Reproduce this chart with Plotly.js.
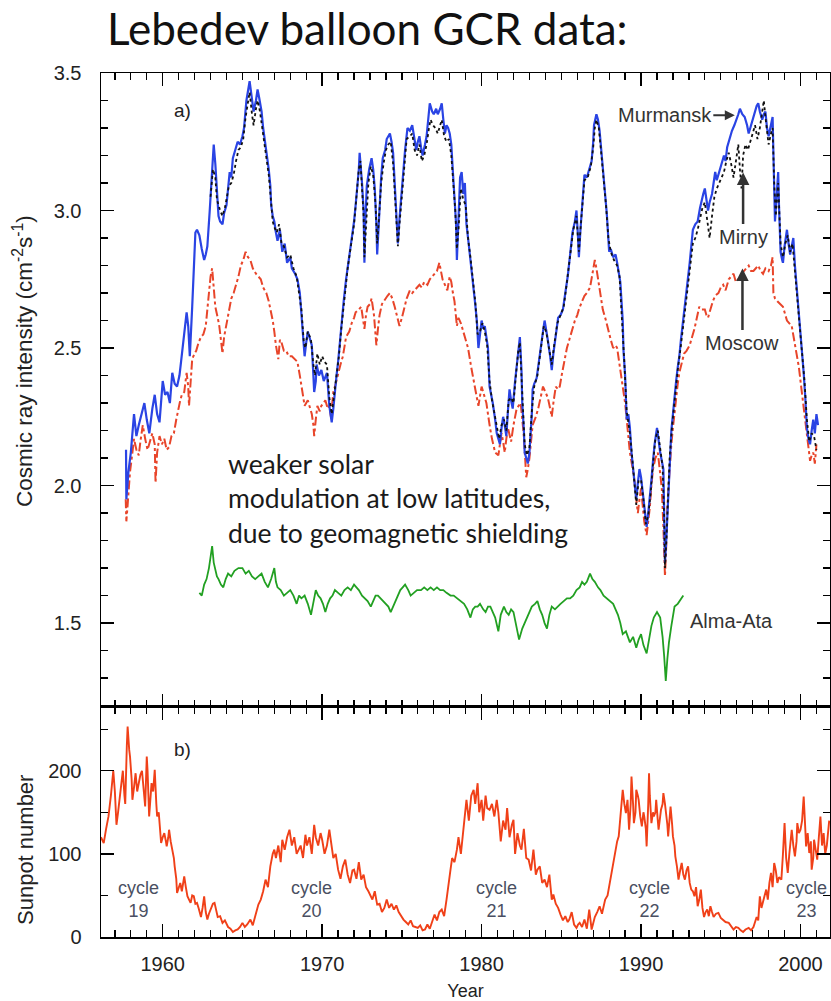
<!DOCTYPE html>
<html>
<head>
<meta charset="utf-8">
<script src="https://cdn.plot.ly/plotly-3.0.1.min.js"></script>
<style>html,body{margin:0;padding:0;background:#fff;}</style>
</head>
<body>
<div id="chart" style="width:831px;height:1001px;"></div>
<script>
// ---- Murmansk (blue) ----
const murmanskYear = [1957.70,1957.72,1957.85,1958.0,1958.2,1958.35,1958.5,1958.7,1958.85,1959.0,1959.16,1959.35,1959.5,1959.65,1959.8,1960.0,1960.15,1960.3,1960.45,1960.6,1960.75,1960.9,1961.05,1961.15,1961.25,1961.35,1961.5,1961.6,1961.7,1961.85,1961.95,1962.05,1962.15,1962.3,1962.45,1962.6,1962.7,1962.8,1962.95,1963.05,1963.2,1963.3,1963.4,1963.5,1963.6,1963.75,1963.85,1964.0,1964.1,1964.2,1964.3,1964.4,1964.55,1964.7,1964.85,1965.0,1965.1,1965.25,1965.45,1965.6,1965.7,1965.85,1965.95,1966.05,1966.2,1966.3,1966.4,1966.55,1966.65,1966.75,1966.8,1966.9,1967.0,1967.1,1967.2,1967.35,1967.5,1967.65,1967.8,1968.0,1968.1,1968.3,1968.45,1968.6,1968.7,1968.8,1968.9,1969.0,1969.1,1969.25,1969.35,1969.45,1969.5,1969.6,1969.65,1969.8,1969.95,1970.1,1970.3,1970.45,1970.6,1970.7,1970.8,1970.9,1971.0,1971.1,1971.2,1971.35,1971.5,1971.7,1971.85,1972.0,1972.1,1972.2,1972.3,1972.35,1972.45,1972.5,1972.6,1972.65,1972.7,1972.8,1972.95,1973.1,1973.2,1973.3,1973.4,1973.45,1973.55,1973.6,1973.7,1973.8,1973.95,1974.05,1974.15,1974.25,1974.35,1974.45,1974.55,1974.65,1974.75,1974.85,1974.95,1975.1,1975.2,1975.35,1975.5,1975.65,1975.8,1975.9,1976.0,1976.1,1976.2,1976.3,1976.45,1976.55,1976.65,1976.75,1976.9,1977.0,1977.15,1977.25,1977.4,1977.5,1977.6,1977.7,1977.8,1977.9,1978.0,1978.1,1978.2,1978.3,1978.4,1978.45,1978.55,1978.65,1978.75,1978.85,1978.95,1979.05,1979.15,1979.25,1979.35,1979.45,1979.6,1979.7,1979.8,1979.9,1980.0,1980.1,1980.2,1980.3,1980.4,1980.5,1980.6,1980.7,1980.85,1980.95,1981.05,1981.15,1981.25,1981.35,1981.45,1981.55,1981.65,1981.75,1981.85,1981.95,1982.1,1982.2,1982.3,1982.4,1982.5,1982.55,1982.65,1982.7,1982.8,1982.9,1983.0,1983.05,1983.15,1983.2,1983.3,1983.45,1983.6,1983.75,1983.85,1983.95,1984.05,1984.15,1984.3,1984.4,1984.5,1984.6,1984.7,1984.8,1984.95,1985.1,1985.25,1985.4,1985.55,1985.7,1985.85,1985.95,1986.05,1986.1,1986.2,1986.3,1986.45,1986.6,1986.7,1986.8,1986.9,1987.0,1987.05,1987.2,1987.3,1987.4,1987.5,1987.6,1987.75,1987.85,1988.0,1988.1,1988.25,1988.4,1988.5,1988.6,1988.7,1988.85,1988.9,1989.0,1989.1,1989.2,1989.3,1989.4,1989.5,1989.6,1989.7,1989.8,1989.9,1990.0,1990.1,1990.2,1990.35,1990.45,1990.55,1990.65,1990.75,1990.85,1991.0,1991.1,1991.2,1991.3,1991.4,1991.45,1991.5,1991.58,1991.65,1991.75,1991.8,1991.9,1992.0,1992.1,1992.2,1992.3,1992.4,1992.5,1992.6,1992.75,1992.85,1992.95,1993.05,1993.15,1993.25,1993.4,1993.55,1993.7,1993.8,1993.9,1994.0,1994.1,1994.2,1994.3,1994.45,1994.55,1994.65,1994.75,1994.85,1994.95,1995.05,1995.2,1995.3,1995.4,1995.55,1995.7,1995.85,1996.0,1996.1,1996.2,1996.35,1996.5,1996.65,1996.75,1996.85,1997.0,1997.15,1997.25,1997.35,1997.45,1997.6,1997.7,1997.8,1997.9,1998.0,1998.1,1998.2,1998.25,1998.3,1998.35,1998.4,1998.5,1998.6,1998.65,1998.75,1998.85,1998.9,1999.0,1999.15,1999.25,1999.35,1999.45,1999.55,1999.65,1999.8,1999.9,2000.0,2000.1,2000.2,2000.3,2000.4,2000.5,2000.6,2000.7,2000.8,2000.9,2001.0,2001.1];
const murmanskVal = [2.13,1.95,2.05,2.12,2.26,2.18,2.22,2.27,2.30,2.24,2.19,2.28,2.33,2.26,2.23,2.38,2.33,2.34,2.30,2.41,2.37,2.36,2.40,2.45,2.50,2.56,2.63,2.58,2.47,2.65,2.80,2.92,2.93,2.91,2.86,2.82,2.84,2.87,3.00,3.10,3.24,3.17,3.05,2.98,2.96,2.95,2.99,3.02,3.08,3.14,3.12,3.19,3.22,3.25,3.24,3.27,3.30,3.40,3.47,3.39,3.36,3.40,3.44,3.41,3.36,3.30,3.26,3.20,3.15,3.09,3.02,2.98,2.96,2.92,2.89,2.93,2.85,2.88,2.81,2.83,2.79,2.77,2.75,2.70,2.63,2.55,2.47,2.52,2.56,2.53,2.51,2.40,2.34,2.38,2.44,2.40,2.42,2.38,2.41,2.29,2.23,2.28,2.35,2.40,2.45,2.52,2.58,2.67,2.75,2.83,2.89,2.96,3.02,3.08,3.15,3.21,3.14,3.10,3.00,2.81,2.95,3.09,3.15,3.19,3.15,3.08,2.95,2.84,2.95,3.02,3.12,3.19,3.22,3.26,3.27,3.28,3.25,3.21,3.10,2.96,2.88,2.97,3.05,3.14,3.22,3.30,3.29,3.31,3.26,3.22,3.25,3.27,3.23,3.20,3.24,3.27,3.33,3.39,3.36,3.35,3.37,3.35,3.37,3.39,3.33,3.28,3.31,3.30,3.28,3.24,3.14,3.04,2.95,2.82,2.95,3.12,3.14,3.06,3.10,2.95,2.90,2.85,2.80,2.75,2.66,2.60,2.50,2.55,2.60,2.57,2.58,2.54,2.50,2.36,2.33,2.30,2.24,2.19,2.17,2.15,2.21,2.25,2.22,2.18,2.27,2.35,2.31,2.28,2.38,2.44,2.50,2.54,2.42,2.30,2.20,2.12,2.10,2.08,2.12,2.16,2.26,2.35,2.37,2.39,2.46,2.51,2.56,2.60,2.57,2.53,2.47,2.42,2.48,2.53,2.57,2.61,2.62,2.64,2.70,2.76,2.84,2.92,2.96,3.00,2.90,2.83,2.93,3.01,3.13,3.12,3.14,3.16,3.18,3.25,3.31,3.35,3.33,3.29,3.22,3.15,3.05,2.99,2.85,2.86,2.83,2.84,2.81,2.78,2.74,2.60,2.49,2.40,2.24,2.26,2.21,2.12,2.06,2.00,1.95,2.01,2.06,2.03,1.98,1.92,1.85,1.90,1.95,2.02,2.09,2.15,2.21,2.16,2.12,2.09,2.06,1.90,1.72,1.80,1.89,2.03,2.13,2.20,2.26,2.33,2.38,2.43,2.47,2.53,2.58,2.64,2.70,2.76,2.81,2.87,2.93,2.95,2.96,3.01,3.04,3.06,3.08,3.04,3.00,3.03,3.06,3.10,3.14,3.11,3.13,3.15,3.17,3.20,3.18,3.23,3.26,3.29,3.31,3.33,3.35,3.37,3.35,3.34,3.31,3.28,3.30,3.33,3.36,3.38,3.39,3.36,3.33,3.35,3.36,3.30,3.27,3.30,3.33,3.34,3.21,3.08,2.96,3.05,3.14,3.02,2.85,2.82,2.81,2.87,2.93,2.88,2.84,2.87,2.90,2.80,2.70,2.63,2.57,2.48,2.41,2.32,2.21,2.17,2.15,2.20,2.24,2.19,2.26,2.22];

// ---- Mirny (black dotted) ----
const mirnyYear = [1963.0,1963.15,1963.3,1963.4,1963.5,1963.6,1963.75,1963.9,1964.0,1964.15,1964.3,1964.45,1964.6,1964.75,1964.9,1965.05,1965.2,1965.35,1965.45,1965.6,1965.7,1965.85,1965.95,1966.1,1966.2,1966.35,1966.5,1966.65,1966.8,1966.9,1967.0,1967.15,1967.3,1967.45,1967.6,1967.8,1968.0,1968.2,1968.4,1968.55,1968.7,1968.85,1968.95,1969.1,1969.3,1969.45,1969.55,1969.7,1969.85,1970.0,1970.15,1970.3,1970.45,1970.6,1970.75,1970.9,1971.05,1971.2,1971.4,1971.6,1971.8,1972.0,1972.15,1972.3,1972.4,1972.5,1972.6,1972.65,1972.75,1972.9,1973.05,1973.2,1973.35,1973.45,1973.55,1973.7,1973.85,1974.0,1974.15,1974.3,1974.45,1974.55,1974.65,1974.75,1974.85,1975.0,1975.15,1975.3,1975.5,1975.65,1975.8,1975.95,1976.1,1976.25,1976.4,1976.55,1976.7,1976.8,1976.95,1977.1,1977.25,1977.4,1977.5,1977.65,1977.8,1977.95,1978.1,1978.2,1978.35,1978.45,1978.55,1978.7,1978.85,1979.0,1979.15,1979.3,1979.45,1979.6,1979.75,1979.9,1980.05,1980.2,1980.35,1980.5,1980.65,1980.8,1980.95,1981.1,1981.25,1981.4,1981.55,1981.7,1981.85,1982.0,1982.15,1982.3,1982.4,1982.55,1982.7,1982.85,1983.0,1983.15,1983.3,1983.5,1983.7,1983.9,1984.05,1984.2,1984.4,1984.55,1984.75,1984.95,1985.15,1985.35,1985.55,1985.75,1985.95,1986.1,1986.25,1986.45,1986.65,1986.85,1987.0,1987.1,1987.2,1987.35,1987.5,1987.65,1987.8,1987.95,1988.1,1988.3,1988.5,1988.65,1988.8,1988.95,1989.1,1989.3,1989.45,1989.6,1989.7,1989.85,1990.0,1990.15,1990.3,1990.45,1990.6,1990.75,1990.9,1991.05,1991.2,1991.35,1991.45,1991.5,1991.6,1991.7,1991.8,1991.95,1992.1,1992.3,1992.5,1992.7,1992.9,1993.1,1993.25,1993.4,1993.55,1993.7,1993.85,1994.0,1994.15,1994.3,1994.45,1994.6,1994.75,1994.9,1995.05,1995.2,1995.35,1995.5,1995.65,1995.8,1995.95,1996.1,1996.2,1996.3,1996.4,1996.55,1996.7,1996.85,1997.0,1997.15,1997.3,1997.45,1997.6,1997.7,1997.8,1997.9,1998.0,1998.15,1998.25,1998.35,1998.45,1998.6,1998.75,1998.9,1999.05,1999.2,1999.35,1999.5,1999.65,1999.8,1999.95,2000.1,2000.25,2000.4,2000.55,2000.7,2000.85,2001.0];
const mirnyVal = [3.05,3.15,3.12,3.04,3.02,3.00,2.98,3.01,3.04,3.09,3.10,3.13,3.18,3.22,3.23,3.26,3.34,3.40,3.43,3.35,3.31,3.37,3.40,3.36,3.32,3.26,3.20,3.13,3.03,2.96,2.94,2.92,2.95,2.88,2.87,2.83,2.84,2.79,2.76,2.70,2.64,2.52,2.50,2.56,2.53,2.44,2.40,2.48,2.44,2.47,2.45,2.44,2.32,2.26,2.33,2.40,2.47,2.57,2.68,2.79,2.87,2.95,3.05,3.15,3.18,3.08,2.98,2.83,2.96,3.10,3.16,3.13,3.02,2.88,2.96,3.10,3.17,3.22,3.24,3.25,3.17,3.06,2.94,2.87,2.95,3.06,3.16,3.26,3.27,3.28,3.22,3.20,3.24,3.18,3.20,3.24,3.30,3.33,3.31,3.30,3.28,3.31,3.33,3.27,3.25,3.26,3.20,3.12,3.00,2.86,2.93,3.08,3.04,3.02,2.90,2.83,2.76,2.67,2.55,2.56,2.59,2.56,2.51,2.38,2.31,2.26,2.21,2.17,2.22,2.24,2.20,2.31,2.32,2.30,2.40,2.49,2.52,2.33,2.15,2.11,2.14,2.27,2.36,2.40,2.49,2.58,2.56,2.51,2.44,2.51,2.59,2.62,2.65,2.74,2.83,2.93,2.98,2.85,2.97,3.11,3.12,3.16,3.23,3.30,3.33,3.30,3.21,3.12,3.02,2.90,2.85,2.82,2.80,2.76,2.62,2.45,2.27,2.19,2.10,2.01,1.93,2.02,2.02,1.95,1.86,1.89,1.97,2.08,2.17,2.20,2.13,2.07,1.88,1.70,1.82,1.95,2.11,2.22,2.31,2.42,2.51,2.61,2.71,2.80,2.88,2.90,2.93,2.97,3.01,3.03,2.96,2.90,2.98,3.05,3.08,3.10,3.12,3.14,3.18,3.21,3.17,3.12,3.18,3.24,3.15,3.08,3.20,3.24,3.22,3.25,3.28,3.31,3.26,3.30,3.36,3.40,3.34,3.28,3.24,3.28,3.30,3.10,2.98,3.10,2.88,2.83,2.88,2.91,2.85,2.88,2.78,2.68,2.58,2.48,2.38,2.24,2.16,2.19,2.18,2.13];

// ---- Moscow (red dash-dot) ----
const moscowYear = [1957.68,1957.72,1957.8,1957.95,1958.1,1958.2,1958.35,1958.5,1958.6,1958.75,1958.9,1959.05,1959.2,1959.35,1959.5,1959.55,1959.65,1959.8,1959.95,1960.1,1960.25,1960.4,1960.55,1960.7,1960.85,1961.0,1961.1,1961.2,1961.35,1961.5,1961.6,1961.65,1961.75,1961.85,1962.0,1962.1,1962.25,1962.4,1962.55,1962.7,1962.8,1962.9,1963.0,1963.1,1963.2,1963.3,1963.45,1963.55,1963.65,1963.75,1963.85,1964.0,1964.15,1964.3,1964.45,1964.6,1964.75,1964.9,1965.05,1965.2,1965.35,1965.5,1965.65,1965.85,1966.0,1966.15,1966.3,1966.5,1966.65,1966.8,1966.9,1967.0,1967.1,1967.25,1967.35,1967.45,1967.6,1967.75,1967.9,1968.1,1968.3,1968.45,1968.6,1968.7,1968.8,1968.9,1969.0,1969.1,1969.25,1969.35,1969.45,1969.5,1969.6,1969.7,1969.85,1969.95,1970.1,1970.2,1970.35,1970.45,1970.55,1970.7,1970.85,1971.0,1971.15,1971.3,1971.4,1971.5,1971.7,1971.85,1972.0,1972.1,1972.3,1972.45,1972.55,1972.65,1972.75,1972.85,1973.0,1973.1,1973.25,1973.4,1973.5,1973.6,1973.75,1973.95,1974.1,1974.25,1974.4,1974.55,1974.7,1974.85,1975.0,1975.15,1975.3,1975.5,1975.65,1975.8,1975.95,1976.1,1976.25,1976.4,1976.6,1976.75,1976.9,1977.05,1977.2,1977.35,1977.45,1977.55,1977.7,1977.85,1978.0,1978.1,1978.2,1978.3,1978.45,1978.55,1978.7,1978.85,1979.0,1979.15,1979.35,1979.55,1979.7,1979.8,1979.9,1980.0,1980.15,1980.3,1980.5,1980.65,1980.85,1981.05,1981.15,1981.25,1981.35,1981.45,1981.55,1981.65,1981.85,1982.0,1982.2,1982.45,1982.55,1982.65,1982.75,1982.8,1982.9,1983.0,1983.1,1983.2,1983.4,1983.55,1983.7,1983.85,1984.0,1984.15,1984.3,1984.4,1984.5,1984.65,1984.8,1984.9,1985.05,1985.2,1985.35,1985.5,1985.7,1985.85,1986.0,1986.1,1986.3,1986.45,1986.6,1986.8,1986.95,1987.1,1987.2,1987.3,1987.45,1987.6,1987.8,1987.95,1988.1,1988.25,1988.4,1988.5,1988.6,1988.7,1988.8,1988.9,1989.0,1989.1,1989.2,1989.3,1989.45,1989.6,1989.7,1989.8,1989.9,1990.0,1990.1,1990.2,1990.35,1990.45,1990.55,1990.65,1990.75,1990.9,1991.05,1991.15,1991.3,1991.4,1991.5,1991.58,1991.65,1991.75,1991.8,1991.9,1992.0,1992.1,1992.2,1992.3,1992.4,1992.55,1992.7,1992.85,1993.05,1993.2,1993.35,1993.5,1993.65,1993.8,1994.0,1994.1,1994.2,1994.35,1994.5,1994.65,1994.85,1995.0,1995.15,1995.3,1995.5,1995.65,1995.8,1995.95,1996.1,1996.3,1996.45,1996.6,1996.75,1996.9,1997.05,1997.2,1997.35,1997.5,1997.65,1997.8,1998.0,1998.15,1998.25,1998.3,1998.4,1998.55,1998.7,1998.9,1999.0,1999.15,1999.3,1999.45,1999.6,1999.8,1999.9,2000.0,2000.1,2000.2,2000.3,2000.4,2000.5,2000.6,2000.7,2000.8,2000.9,2001.0];
const moscowVal = [1.95,1.87,1.93,2.05,2.12,2.17,2.13,2.11,2.16,2.22,2.17,2.13,2.16,2.19,2.15,2.01,2.12,2.18,2.15,2.17,2.13,2.14,2.18,2.19,2.24,2.29,2.31,2.33,2.34,2.41,2.36,2.29,2.40,2.46,2.48,2.49,2.52,2.54,2.55,2.58,2.64,2.71,2.76,2.79,2.72,2.65,2.61,2.58,2.53,2.48,2.54,2.59,2.63,2.68,2.70,2.73,2.76,2.80,2.82,2.85,2.83,2.82,2.79,2.77,2.76,2.75,2.72,2.70,2.67,2.63,2.60,2.56,2.51,2.46,2.53,2.52,2.49,2.49,2.47,2.47,2.46,2.45,2.40,2.36,2.32,2.29,2.30,2.31,2.28,2.26,2.22,2.18,2.24,2.29,2.27,2.29,2.30,2.31,2.28,2.29,2.25,2.34,2.37,2.41,2.44,2.47,2.51,2.54,2.56,2.59,2.61,2.63,2.64,2.65,2.61,2.57,2.62,2.65,2.66,2.68,2.62,2.51,2.57,2.62,2.66,2.68,2.69,2.70,2.68,2.65,2.61,2.58,2.61,2.65,2.68,2.71,2.70,2.71,2.72,2.73,2.72,2.74,2.73,2.75,2.76,2.77,2.78,2.81,2.78,2.75,2.73,2.71,2.76,2.74,2.70,2.67,2.58,2.61,2.59,2.56,2.53,2.50,2.43,2.36,2.32,2.29,2.33,2.36,2.33,2.30,2.22,2.17,2.12,2.11,2.15,2.19,2.16,2.12,2.17,2.21,2.16,2.22,2.28,2.30,2.24,2.18,2.08,2.03,2.06,2.10,2.16,2.22,2.25,2.28,2.32,2.36,2.34,2.32,2.28,2.25,2.30,2.36,2.35,2.36,2.41,2.46,2.50,2.53,2.57,2.60,2.62,2.64,2.67,2.69,2.70,2.72,2.77,2.82,2.79,2.75,2.70,2.64,2.60,2.56,2.53,2.50,2.51,2.50,2.46,2.43,2.39,2.35,2.30,2.24,2.18,2.12,2.07,2.01,1.95,1.90,1.95,1.99,1.93,1.87,1.82,1.87,1.92,2.00,2.06,2.10,2.12,2.07,1.99,1.85,1.67,1.78,1.92,2.02,2.08,2.15,2.21,2.27,2.32,2.37,2.41,2.45,2.48,2.49,2.51,2.54,2.57,2.61,2.65,2.64,2.64,2.62,2.61,2.64,2.67,2.69,2.70,2.72,2.73,2.71,2.75,2.76,2.77,2.74,2.75,2.77,2.78,2.79,2.80,2.78,2.78,2.79,2.80,2.78,2.77,2.79,2.78,2.80,2.83,2.70,2.68,2.67,2.66,2.65,2.63,2.60,2.59,2.58,2.53,2.47,2.43,2.38,2.33,2.28,2.23,2.18,2.13,2.09,2.11,2.12,2.08,2.15];

// ---- Alma-Ata (green) ----
const almaYear = [1962.3,1962.45,1962.6,1962.75,1962.9,1963.05,1963.1,1963.2,1963.3,1963.4,1963.5,1963.65,1963.8,1963.95,1964.1,1964.3,1964.5,1964.75,1965.0,1965.2,1965.4,1965.6,1965.8,1966.0,1966.2,1966.4,1966.6,1966.8,1967.0,1967.1,1967.2,1967.4,1967.6,1967.8,1968.0,1968.2,1968.4,1968.55,1968.7,1968.9,1969.1,1969.3,1969.45,1969.6,1969.75,1969.9,1970.05,1970.2,1970.35,1970.5,1970.65,1970.8,1971.0,1971.2,1971.4,1971.6,1971.8,1972.0,1972.15,1972.3,1972.5,1972.65,1972.85,1973.05,1973.2,1973.35,1973.5,1973.65,1973.85,1974.0,1974.15,1974.3,1974.45,1974.6,1974.75,1974.9,1975.05,1975.2,1975.4,1975.55,1975.75,1975.95,1976.2,1976.4,1976.6,1976.8,1977.0,1977.2,1977.4,1977.6,1977.8,1978.05,1978.25,1978.45,1978.7,1978.9,1979.1,1979.3,1979.45,1979.6,1979.75,1979.9,1980.1,1980.25,1980.4,1980.55,1980.7,1980.85,1981.05,1981.2,1981.4,1981.55,1981.7,1981.85,1982.0,1982.15,1982.35,1982.55,1982.7,1982.85,1983.0,1983.15,1983.35,1983.5,1983.65,1983.8,1983.95,1984.1,1984.25,1984.4,1984.6,1984.75,1984.95,1985.15,1985.35,1985.55,1985.75,1985.95,1986.15,1986.3,1986.45,1986.6,1986.8,1986.95,1987.1,1987.3,1987.45,1987.65,1987.85,1988.05,1988.25,1988.4,1988.55,1988.7,1988.85,1989.05,1989.3,1989.5,1989.7,1989.85,1990.0,1990.15,1990.35,1990.5,1990.65,1990.8,1991.0,1991.2,1991.35,1991.45,1991.55,1991.65,1991.75,1991.9,1992.1,1992.3,1992.5,1992.65];
const almaVal = [1.61,1.60,1.64,1.66,1.70,1.75,1.78,1.72,1.69,1.67,1.66,1.64,1.63,1.66,1.68,1.67,1.69,1.70,1.70,1.68,1.69,1.67,1.66,1.67,1.68,1.65,1.63,1.66,1.70,1.65,1.63,1.62,1.60,1.61,1.62,1.60,1.57,1.60,1.59,1.60,1.57,1.53,1.58,1.62,1.60,1.59,1.57,1.54,1.57,1.59,1.60,1.62,1.61,1.60,1.62,1.63,1.62,1.64,1.63,1.62,1.60,1.59,1.58,1.56,1.58,1.60,1.60,1.59,1.58,1.57,1.56,1.54,1.56,1.58,1.60,1.62,1.63,1.64,1.62,1.60,1.61,1.62,1.62,1.63,1.62,1.63,1.62,1.63,1.62,1.62,1.61,1.60,1.60,1.59,1.58,1.57,1.55,1.52,1.55,1.56,1.56,1.57,1.55,1.54,1.56,1.56,1.54,1.52,1.47,1.53,1.56,1.54,1.53,1.55,1.54,1.50,1.44,1.48,1.50,1.52,1.54,1.56,1.57,1.58,1.55,1.53,1.50,1.48,1.53,1.56,1.55,1.56,1.57,1.58,1.59,1.59,1.60,1.62,1.63,1.65,1.64,1.65,1.68,1.66,1.65,1.63,1.62,1.60,1.59,1.58,1.57,1.55,1.53,1.50,1.46,1.47,1.43,1.45,1.41,1.44,1.46,1.42,1.39,1.44,1.49,1.52,1.54,1.52,1.45,1.38,1.29,1.37,1.43,1.49,1.56,1.57,1.59,1.60];

// ---- Sunspot number ----
const sunYear = [1956.13,1956.3,1956.45,1956.6,1956.75,1956.9,1957.0,1957.1,1957.2,1957.3,1957.4,1957.5,1957.6,1957.65,1957.75,1957.8,1957.9,1957.95,1958.05,1958.1,1958.2,1958.3,1958.4,1958.5,1958.6,1958.7,1958.8,1958.9,1959.0,1959.05,1959.15,1959.25,1959.3,1959.4,1959.5,1959.6,1959.65,1959.75,1959.8,1959.9,1960.0,1960.1,1960.2,1960.25,1960.35,1960.4,1960.5,1960.6,1960.7,1960.75,1960.85,1960.9,1961.0,1961.1,1961.2,1961.35,1961.45,1961.55,1961.65,1961.75,1961.85,1961.95,1962.05,1962.15,1962.25,1962.4,1962.5,1962.6,1962.7,1962.8,1962.9,1963.0,1963.15,1963.25,1963.35,1963.45,1963.6,1963.75,1963.9,1964.1,1964.25,1964.4,1964.55,1964.7,1964.85,1965.0,1965.15,1965.3,1965.5,1965.65,1965.8,1966.0,1966.15,1966.3,1966.45,1966.6,1966.75,1966.9,1967.0,1967.1,1967.25,1967.4,1967.5,1967.65,1967.8,1967.95,1968.1,1968.25,1968.4,1968.5,1968.65,1968.8,1968.95,1969.05,1969.2,1969.35,1969.5,1969.6,1969.75,1969.9,1970.0,1970.15,1970.3,1970.45,1970.55,1970.7,1970.85,1971.0,1971.15,1971.3,1971.45,1971.6,1971.75,1971.9,1972.0,1972.15,1972.3,1972.45,1972.6,1972.75,1972.9,1973.0,1973.15,1973.3,1973.45,1973.6,1973.75,1973.9,1974.05,1974.2,1974.35,1974.5,1974.65,1974.8,1974.95,1975.1,1975.25,1975.4,1975.55,1975.7,1975.85,1976.0,1976.15,1976.3,1976.45,1976.6,1976.75,1976.9,1977.05,1977.2,1977.35,1977.5,1977.65,1977.8,1977.95,1978.05,1978.15,1978.3,1978.45,1978.55,1978.7,1978.85,1978.95,1979.05,1979.2,1979.35,1979.5,1979.6,1979.75,1979.85,1980.0,1980.1,1980.25,1980.35,1980.5,1980.65,1980.8,1980.95,1981.05,1981.2,1981.35,1981.5,1981.6,1981.75,1981.9,1982.0,1982.1,1982.25,1982.4,1982.5,1982.65,1982.8,1982.95,1983.1,1983.25,1983.4,1983.5,1983.65,1983.8,1983.95,1984.1,1984.25,1984.4,1984.5,1984.65,1984.8,1984.95,1985.1,1985.25,1985.4,1985.5,1985.65,1985.8,1985.95,1986.05,1986.15,1986.3,1986.45,1986.6,1986.75,1986.9,1987.1,1987.25,1987.4,1987.55,1987.75,1987.9,1988.0,1988.1,1988.2,1988.3,1988.4,1988.5,1988.6,1988.7,1988.85,1988.95,1989.05,1989.15,1989.25,1989.35,1989.4,1989.5,1989.55,1989.65,1989.7,1989.8,1989.85,1989.95,1990.05,1990.15,1990.2,1990.3,1990.35,1990.45,1990.5,1990.55,1990.65,1990.75,1990.8,1990.9,1990.95,1991.05,1991.1,1991.2,1991.25,1991.35,1991.4,1991.5,1991.55,1991.65,1991.7,1991.8,1991.85,1991.95,1992.0,1992.1,1992.15,1992.25,1992.35,1992.45,1992.55,1992.65,1992.75,1992.85,1992.95,1993.05,1993.15,1993.25,1993.35,1993.45,1993.55,1993.65,1993.75,1993.85,1993.95,1994.05,1994.15,1994.25,1994.35,1994.45,1994.55,1994.7,1994.85,1995.0,1995.15,1995.3,1995.5,1995.65,1995.8,1995.95,1996.1,1996.25,1996.4,1996.55,1996.75,1996.9,1997.05,1997.15,1997.25,1997.35,1997.45,1997.55,1997.65,1997.75,1997.85,1997.95,1998.05,1998.15,1998.25,1998.35,1998.45,1998.55,1998.65,1998.8,1998.9,1999.0,1999.1,1999.2,1999.3,1999.45,1999.55,1999.65,1999.75,1999.8,1999.9,2000.0,2000.1,2000.2,2000.3,2000.35,2000.45,2000.55,2000.65,2000.7,2000.8,2000.85,2000.95,2001.05,2001.15,2001.25,2001.35,2001.45,2001.55,2001.65,2001.8];
const sunVal = [120,113,130,145,170,200,175,135,150,165,180,200,170,160,230,253,225,217,190,165,180,197,175,185,195,200,180,157,217,200,145,170,185,175,201,160,145,150,137,113,120,125,115,109,120,129,115,105,95,85,70,53,60,65,55,73,60,49,45,41,50,49,40,41,35,24,35,49,30,21,28,33,40,41,30,24,25,17,20,12,10,6,8,9,12,17,12,15,21,14,25,39,45,55,69,60,85,100,105,95,110,90,117,105,120,129,110,120,100,105,110,95,123,110,120,100,135,120,110,125,117,100,110,129,115,95,100,81,70,85,93,75,65,80,81,70,90,69,75,60,55,51,45,55,39,40,30,35,45,35,40,33,38,30,25,21,18,15,20,13,12,11,14,8,9,15,10,18,27,20,30,33,25,45,70,81,95,90,105,120,100,130,150,165,140,170,177,160,185,150,165,140,170,155,153,160,145,165,150,115,140,129,155,120,135,141,100,125,110,105,130,95,93,80,105,75,81,85,65,69,60,75,45,51,40,35,27,20,25,18,21,30,15,11,15,17,12,21,10,33,9,24,30,37,28,45,50,61,75,85,95,109,115,121,140,177,160,149,165,129,160,193,160,137,150,177,170,165,145,133,150,145,130,109,160,197,170,137,150,145,150,165,140,129,145,153,160,173,160,153,135,121,145,157,135,121,110,97,85,69,80,89,75,69,80,85,65,57,55,49,60,37,45,57,35,24,30,33,25,37,30,24,28,29,23,21,18,17,13,9,12,11,8,6,9,11,8,12,18,24,20,49,35,41,50,57,45,65,77,60,89,80,65,72,69,100,137,95,77,100,129,110,97,115,137,125,129,140,169,130,109,125,101,115,81,95,117,105,93,120,145,110,125,100,110,140];

// ---- tick labels / label texts ----
const yTopTicks = [1.5, 2.0, 2.5, 3.0, 3.5];
const yBotTicks = [0, 100, 200];
const xTicks = [1960, 1970, 1980, 1990, 2000];
const cycleNames = ['cycle<br>19','cycle<br>20','cycle<br>21','cycle<br>22','cycle<br>23'];
const cycleYears = [1958.5, 1969.35, 1980.95, 1990.55, 2000.35];

const FONT = 'Liberation Sans, Arial, Helvetica, sans-serif';

const traces = [
  {x: moscowYear, y: moscowVal, xaxis:'x2', yaxis:'y2', mode:'lines', name:'Moscow',
   line:{color:'#e8452a', width:2, dash:'dashdot'}},
  {x: murmanskYear, y: murmanskVal, xaxis:'x2', yaxis:'y2', mode:'lines', name:'Murmansk',
   line:{color:'#2a44e4', width:2.2}},
  {x: mirnyYear, y: mirnyVal, xaxis:'x2', yaxis:'y2', mode:'lines', name:'Mirny',
   line:{color:'#111111', width:1.8, dash:'dot'}},
  {x: almaYear, y: almaVal, xaxis:'x2', yaxis:'y2', mode:'lines', name:'Alma-Ata',
   line:{color:'#22a022', width:1.8}},
  {x: sunYear, y: sunVal, xaxis:'x', yaxis:'y', mode:'lines', name:'Sunspot',
   line:{color:'#f04018', width:1.9}}
];

const axCommon = {
  showline:true, linecolor:'#000', linewidth:1.5, mirror:'ticks',
  ticks:'inside', ticklen:13, tickwidth:1.5, tickcolor:'#000',
  showgrid:false, zeroline:false,
  tickfont:{family:FONT, size:20, color:'#222'}
};

const annots = [
  {text:'a)', x:1961.24, y:3.364, xref:'x2', yref:'y2', showarrow:false, font:{family:FONT, size:19, color:'#222'}},
  {text:'b)', x:1961.24, y:225, xref:'x', yref:'y', showarrow:false, font:{family:FONT, size:19, color:'#222'}},
  {text:'Murmansk', x:1995.88, y:3.346, xref:'x2', yref:'y2', showarrow:true, ax:-70, ay:0,
   arrowhead:2, arrowsize:1, arrowwidth:2, arrowcolor:'#333', font:{family:FONT, size:20, color:'#333'}},
  {text:'Mirny', x:1996.4, y:3.138, xref:'x2', yref:'y2', showarrow:true, ax:0, ay:64,
   arrowhead:2, arrowsize:1, arrowwidth:2.5, arrowcolor:'#333', font:{family:FONT, size:20, color:'#333'}},
  {text:'Moscow', x:1996.36, y:2.789, xref:'x2', yref:'y2', showarrow:true, ax:0, ay:74,
   arrowhead:2, arrowsize:1, arrowwidth:2.5, arrowcolor:'#333', font:{family:FONT, size:20, color:'#333'}},
  {text:'Alma-Ata', x:1995.7, y:1.507, xref:'x2', yref:'y2', showarrow:false, font:{family:FONT, size:20, color:'#333'}},
  {text:'weaker solar<br>modulation at low latitudes,<br>due to geomagnetic shielding',
   x:1964.0, y:2.145, xref:'x2', yref:'y2', xanchor:'left', yanchor:'top', align:'left', showarrow:false,
   font:{family:'Lato, Open Sans, sans-serif', size:26.5, color:'#1a1a1a'}},
  {text:'Cosmic ray intensity (cm<sup>-2</sup>s<sup>-1</sup>)', xref:'paper', yref:'paper',
   x:(23-101)/729, y:(937-361)/864, xanchor:'center', yanchor:'middle', textangle:-90, showarrow:false,
   font:{family:FONT, size:22.5, color:'#222'}},
  {text:'Sunpot number', xref:'paper', yref:'paper',
   x:(25-101)/729, y:(937-850)/864, xanchor:'center', yanchor:'middle', textangle:-90, showarrow:false,
   font:{family:FONT, size:22, color:'#222'}}
];
cycleNames.forEach((t, i) => {
  annots.push({text:t, x:cycleYears[i], y:45, xref:'x', yref:'y', showarrow:false,
    font:{family:FONT, size:18, color:'#4a4f62'}});
});

const split = 230.3/864;
const layout = {
  width:831, height:1001,
  margin:{l:101, r:1, t:73, b:64},
  paper_bgcolor:'#fff', plot_bgcolor:'#fff',
  showlegend:false,
  font:{family:FONT, size:19, color:'#222'},
  title:{text:'Lebedev balloon GCR data:', xref:'container', yref:'container',
    x:107/831, xanchor:'left', y:1-30/1001, yanchor:'middle',
    font:{family:'Lato, Open Sans, sans-serif', size:44, color:'#111'}},
  xaxis: Object.assign({}, axCommon, {
    anchor:'y', domain:[0,1], range:[1956.13, 2001.85],
    tickvals:xTicks, ticktext:xTicks.map(String),
    minor:{dtick:1, tick0:1960, ticks:'inside', ticklen:7, tickwidth:1.3, tickcolor:'#000', showgrid:false},
    ticklabelstandoff:8,
    title:{text:'Year', font:{family:FONT, size:18, color:'#222'}, standoff:12}
  }),
  xaxis2: Object.assign({}, axCommon, {
    anchor:'y2', domain:[0,1], range:[1956.13, 2001.85], matches:'x',
    tickvals:xTicks, showticklabels:false,
    minor:{dtick:1, tick0:1960, ticks:'inside', ticklen:7, tickwidth:1.3, tickcolor:'#000', showgrid:false}
  }),
  yaxis: Object.assign({}, axCommon, {
    anchor:'x', domain:[0, split], range:[0, 277],
    tickvals:yBotTicks, ticktext:yBotTicks.map(String),
    minor:{dtick:50, tick0:0, ticks:'inside', ticklen:7, tickwidth:1.3, tickcolor:'#000', showgrid:false},
    ticklabelstandoff:14
  }),
  yaxis2: Object.assign({}, axCommon, {
    anchor:'x2', domain:[split, 1], range:[1.196, 3.5],
    tickvals:yTopTicks, ticktext:yTopTicks.map(v => v.toFixed(1)),
    minor:{dtick:0.1, tick0:1.5, ticks:'inside', ticklen:7, tickwidth:1.3, tickcolor:'#000', showgrid:false},
    ticklabelstandoff:14
  }),
  annotations: annots
};

Plotly.newPlot('chart', traces, layout, {displayModeBar:false, staticPlot:true});
</script>
</body>
</html>
